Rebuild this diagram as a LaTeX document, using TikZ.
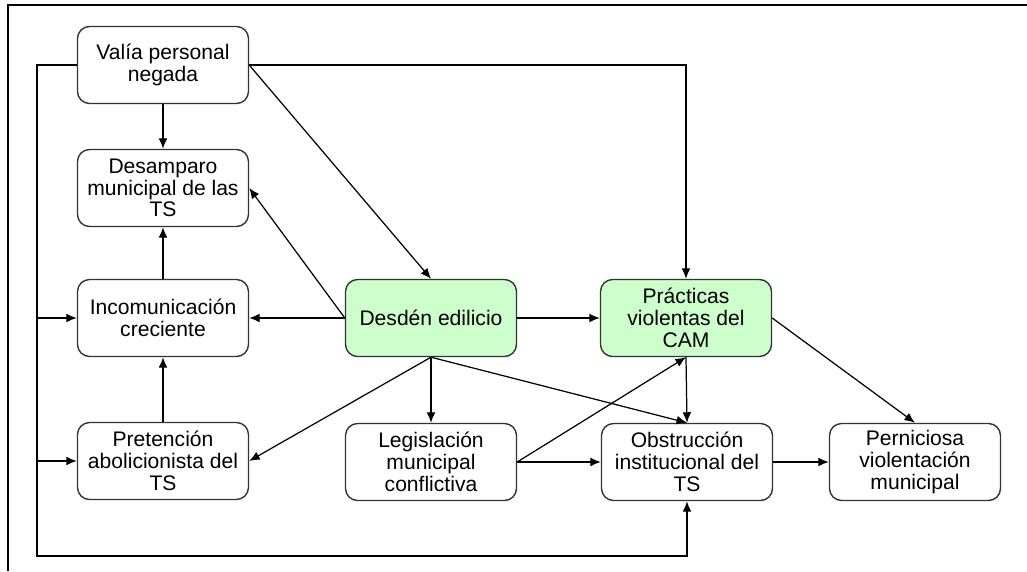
\documentclass[tikz,border=0pt]{standalone}
\usepackage{fontspec}
\setmainfont{Liberation Sans}
\usepackage{xcolor}
\usetikzlibrary{arrows.meta,positioning,calc}
\definecolor{verdeclaro}{RGB}{204,255,204}

\begin{document}
\begin{tikzpicture}[x=0.02cm,y=-0.02cm,
		caja/.style={draw=black!80,line width=0.8pt,rounded corners=0.24cm,minimum width=3.42cm,minimum height=1.54cm,align=center,inner sep=1pt,font=\fontsize{12}{12.4}\selectfont},
		cajaverde/.style={caja,fill=verdeclaro},
		flecha/.style={-{Latex[length=6pt,width=5pt]},line width=0.7pt},
		linea/.style={line width=0.7pt}]
	\useasboundingbox (0,0) rectangle (1027,571);
	% marco
	\draw[line width=1.3pt] (8,571) -- (8,5) -- (1027,5);
	% cajas
	\node[caja] (val) at (163,65) {Valía personal\\negada};
	\node[caja] (amp) at (163,188) {Desamparo\\municipal de las\\TS};
	\node[caja] (inc) at (163,318) {Incomunicación\\creciente};
	\node[caja] (pre) at (163,461) {Pretención\\abolicionista del\\TS};
	\node[cajaverde] (des) at (431,318) {Desdén edilicio};
	\node[cajaverde] (pra) at (686,318) {Prácticas\\violentas del\\CAM};
	\node[caja] (leg) at (431,462) {Legislación\\municipal\\conflictiva};
	\node[caja] (obs) at (687,462) {Obstrucción\\institucional del\\TS};
	\node[caja] (per) at (915,462) {Perniciosa\\violentación\\municipal};
	\coordinate (busarr) at (37,65);
	\coordinate (busab) at (37,556);
	% conectores
	\draw[flecha] (val) -- (amp);
	\draw[flecha] (val.east) -- (des.north);
	\draw[flecha] (val.east) -| (pra.north);
	\draw[flecha] (val.west) -- (busarr) -- (busab) -| (obs.south);
	\draw[flecha] (busarr |- inc.west) -- (inc.west);
	\draw[flecha] (busarr |- pre.west) -- (pre.west);
	\draw[flecha] (inc) -- (amp);
	\draw[flecha] (pre) -- (inc);
	\draw[flecha] (des) -- (inc);
	\draw[flecha] (des.west) -- (amp.east);
	\draw[flecha] (des) -- (pra);
	\draw[flecha] (des.south) -- (pre.east);
	\draw[flecha] (des) -- (leg);
	\draw[flecha] (des.south) -- (obs.north);
	\draw[flecha] (leg.east) -- (pra.south);
	\draw[flecha] (leg.east) -- (obs.west);
	\draw[flecha] (pra.south) -- (obs.north);
	\draw[flecha] (pra.east) -- (per.north);
	\draw[flecha] (obs) -- (per);
\end{tikzpicture}
\end{document}
